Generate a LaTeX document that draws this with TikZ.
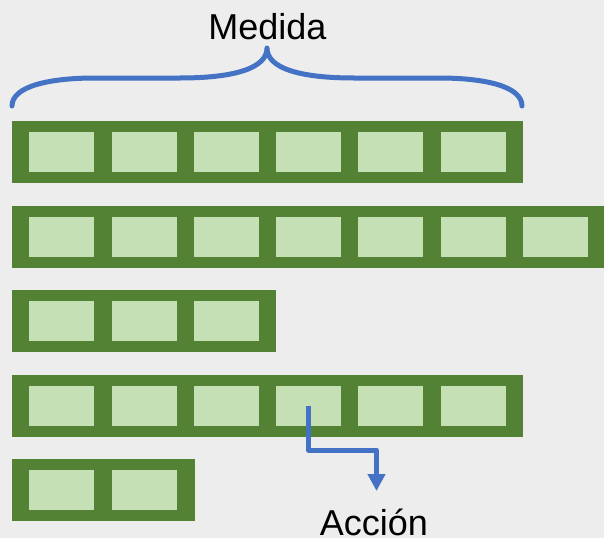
\documentclass[tikz,border=0pt]{standalone}
\usepackage{fontspec}
\setmainfont{Liberation Sans}
\usetikzlibrary{arrows.meta}
\definecolor{bgc}{HTML}{EDEDED}
\definecolor{dkgreen}{HTML}{548235}
\definecolor{ltgreen}{HTML}{C5E0B4}
\definecolor{bluec}{HTML}{4472C4}
\tikzset{
  bar/.style={fill=dkgreen, draw=none, inner sep=0pt, anchor=north west, minimum height=62pt},
  cell/.style={fill=ltgreen, draw=none, inner sep=0pt, anchor=north west, minimum width=65pt, minimum height=40pt},
  bluel/.style={draw=bluec, line width=5pt, line join=round},
  lbl/.style={font=\fontsize{36}{40}\selectfont, inner sep=0pt, anchor=base},
}
\begin{document}
\begin{tikzpicture}[x=1pt,y=-1pt]
\useasboundingbox[fill=bgc] (0,0) rectangle (604,538);
% rows: top y, number of cells, width
\foreach \r/\t/\n/\w in {1/121/6/511, 2/205.5/7/592, 3/290/3/264, 4/374.5/6/511, 5/459/2/183}{
  \node[bar, minimum width=\w pt] (bar\r) at (12,\t) {};
  \foreach \c in {1,...,\n}{
    \node[cell] (r\r c\c) at ({29+82.3*(\c-1)},{\t+11}) {};
  }
}
% brace
\draw[bluel, line cap=round] (12,106) .. controls (12,86) and (50,78) .. (95,78)
  -- (180,78) .. controls (235,78) and (267,68) .. (267,48)
  .. controls (267,68) and (299,78) .. (354,78)
  -- (439,78) .. controls (484,78) and (522,86) .. (522,106);
\node[lbl] (medida) at (267.5,39) {Medida};
\node[lbl] (accion) at (374,535) {Acción};
\coordinate (tip) at (376.5,491);
\draw[bluel, -{Triangle[width=17pt,length=17pt]}] (r4c4.center) |- (376.5,450) -- (tip);
\end{tikzpicture}
\end{document}
